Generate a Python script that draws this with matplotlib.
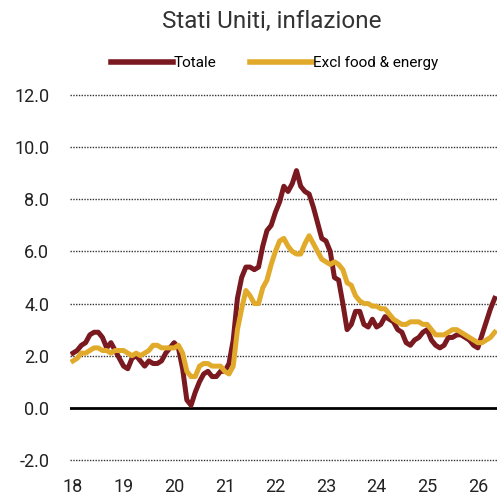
import numpy as np
import matplotlib
matplotlib.use("Agg")
import matplotlib.pyplot as plt

plt.rcParams['font.family'] = ['Roboto', 'DejaVu Sans']

# monthly data, Jan 2018 -> May 2026 (% y/y)
totale = [
    2.1, 2.2, 2.4, 2.5, 2.8, 2.9, 2.9, 2.7, 2.3, 2.5, 2.2, 1.9,   # 2018
    1.6, 1.5, 1.9, 2.0, 1.8, 1.6, 1.8, 1.7, 1.7, 1.8, 2.1, 2.3,   # 2019
    2.5, 2.3, 1.5, 0.3, 0.1, 0.6, 1.0, 1.3, 1.4, 1.2, 1.2, 1.4,   # 2020
    1.4, 1.7, 2.6, 4.2, 5.0, 5.4, 5.4, 5.3, 5.4, 6.2, 6.8, 7.0,   # 2021
    7.5, 7.9, 8.5, 8.3, 8.6, 9.1, 8.5, 8.3, 8.2, 7.7, 7.1, 6.5,   # 2022
    6.4, 6.0, 5.0, 4.9, 4.0, 3.0, 3.2, 3.7, 3.7, 3.2, 3.1, 3.4,   # 2023
    3.1, 3.2, 3.5, 3.4, 3.3, 3.0, 2.9, 2.5, 2.4, 2.6, 2.7, 2.9,   # 2024
    3.0, 2.6, 2.4, 2.3, 2.4, 2.7, 2.7, 2.8, 2.8, 2.7, 2.6, 2.4,   # 2025
    2.3, 2.8, 3.3, 3.8, 4.2,                                      # 2026
]
core = [
    1.8, 1.9, 2.1, 2.1, 2.2, 2.3, 2.3, 2.2, 2.2, 2.1, 2.2, 2.2,   # 2018
    2.2, 2.1, 2.0, 2.1, 2.0, 2.1, 2.2, 2.4, 2.4, 2.3, 2.3, 2.3,   # 2019
    2.3, 2.4, 2.1, 1.4, 1.2, 1.2, 1.6, 1.7, 1.7, 1.6, 1.6, 1.6,   # 2020
    1.4, 1.3, 1.6, 3.0, 3.8, 4.5, 4.3, 4.0, 4.0, 4.6, 4.9, 5.5,   # 2021
    6.0, 6.4, 6.5, 6.2, 6.0, 5.9, 5.9, 6.3, 6.6, 6.3, 6.0, 5.7,   # 2022
    5.6, 5.5, 5.6, 5.5, 5.3, 4.8, 4.7, 4.3, 4.1, 4.0, 4.0, 3.9,   # 2023
    3.9, 3.8, 3.8, 3.6, 3.4, 3.3, 3.2, 3.2, 3.3, 3.3, 3.3, 3.2,   # 2024
    3.2, 3.0, 2.8, 2.8, 2.8, 2.9, 3.0, 3.0, 2.9, 2.8, 2.7, 2.6,   # 2025
    2.5, 2.5, 2.6, 2.7, 2.9,                                      # 2026
]
years = [2018, 2019, 2020, 2021, 2022, 2023, 2024, 2025, 2026]
year_labels = ["18", "19", "20", "21", "22", "23", "24", "25", "26"]
yticks = [-2, 0, 2, 4, 6, 8, 10, 12]

t = 2018 + np.arange(len(totale)) / 12.0

fig = plt.figure(figsize=(4.97, 5.0), dpi=100)
ax = fig.add_axes([0.1408, 0.0696, 0.8592, 0.7508])

red = "#7a1a20"
gold = "#e2aa2a"

ax.plot(t, totale, color=red, lw=3.6, solid_joinstyle="round", label="Totale")
ax.plot(t, core, color=gold, lw=3.6, solid_joinstyle="round", label="Excl food & energy")

ax.set_xlim(2017.941, 2026.379)
ax.set_ylim(-2.2, 12.2)

# gridlines
for y in yticks:
    if y == 0:
        ax.axhline(y, color="black", lw=2.0, zorder=1)
    else:
        ax.axhline(y, color="#333333", lw=1.0, linestyle=(0, (1, 1)), zorder=0)

ax.set_yticks(yticks)
ax.set_yticklabels([f"{v:.1f}" for v in yticks])
ax.set_xticks(years)
ax.set_xticklabels(year_labels)
ax.tick_params(axis="y", length=0, pad=15, labelsize=13, labelcolor="#222222")
ax.tick_params(axis="x", length=0, pad=9, labelsize=13, labelcolor="#222222")
for s in ax.spines.values():
    s.set_visible(False)

fig.text(0.546, 0.958, "Stati Uniti, inflazione", ha="center", va="center",
         fontsize=17.5, color="#333333")

leg = fig.legend(loc="center", bbox_to_anchor=(0.553, 0.874), ncol=2, frameon=False,
                 fontsize=11, handlelength=4.0, handletextpad=0.1, columnspacing=2.2)
for line in leg.get_lines():
    line.set_linewidth(4)

fig.savefig("out.png", dpi=100)
